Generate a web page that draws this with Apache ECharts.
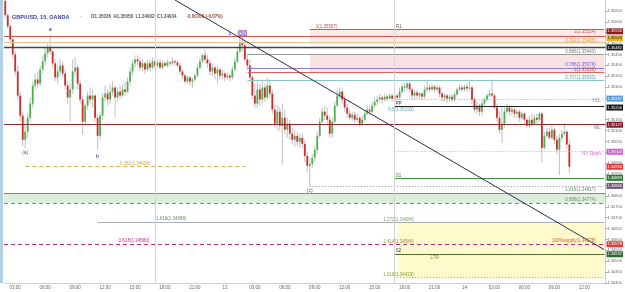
<!DOCTYPE html>
<html>
<head>
<meta charset="utf-8">
<script src="https://cdn.jsdelivr.net/npm/echarts@6/dist/echarts.min.js"></script>
<style>
  html, body { margin: 0; padding: 0; background: #fff; }
  #chart { width: 625px; height: 292px; }
</style>
</head>
<body>
<div id="chart"></div>
<script>
// GBP/USD 15m, OANDA -- candles
const firstOpen = 1.35695

const closes = [
  1.35630, 1.35579, 1.35519, 1.35450, 1.35372, 1.35261, 1.35169, 1.35058, 1.35095, 1.35159,
  1.35224, 1.35307, 1.35335, 1.35316, 1.35381, 1.35418, 1.35455, 1.35482, 1.35464, 1.35409,
  1.35344, 1.35372, 1.35399, 1.35362, 1.35307, 1.35252, 1.35289, 1.35372, 1.35390, 1.35316,
  1.35243, 1.35141, 1.35215, 1.35261, 1.35243, 1.35261, 1.35159, 1.35076, 1.35169, 1.35252,
  1.35270, 1.35243, 1.35279, 1.35298, 1.35252, 1.35279, 1.35261, 1.35289, 1.35279, 1.35326,
  1.35372, 1.35409, 1.35427, 1.35418, 1.35390, 1.35409, 1.35381, 1.35409, 1.35390, 1.35418,
  1.35399, 1.35413, 1.35390, 1.35409, 1.35399, 1.35413, 1.35409, 1.35418, 1.35413, 1.35399,
  1.35372, 1.35353, 1.35326, 1.35344, 1.35326, 1.35335, 1.35353, 1.35390, 1.35418, 1.35446,
  1.35427, 1.35409, 1.35372, 1.35390, 1.35362, 1.35381, 1.35353, 1.35362, 1.35344, 1.35353,
  1.35344, 1.35381, 1.35418, 1.35464, 1.35501, 1.35492, 1.35427, 1.35399, 1.35344, 1.35261,
  1.35224, 1.35289, 1.35243, 1.35298, 1.35252, 1.35307, 1.35270, 1.35196, 1.35132, 1.35187,
  1.35122, 1.35159, 1.35104, 1.35132, 1.35086, 1.35058, 1.35076, 1.35049, 1.35067, 1.35039,
  1.34984, 1.34938, 1.34947, 1.34975, 1.35012, 1.35076, 1.35141, 1.35187, 1.35169, 1.35150,
  1.35086, 1.35141, 1.35215, 1.35261, 1.35279, 1.35243, 1.35206, 1.35178, 1.35159, 1.35173,
  1.35150, 1.35159, 1.35132, 1.35150, 1.35178, 1.35196, 1.35187, 1.35215, 1.35233, 1.35243,
  1.35252, 1.35243, 1.35256, 1.35247, 1.35261, 1.35247, 1.35261, 1.35252, 1.35279, 1.35302,
  1.35298, 1.35316, 1.35289, 1.35261, 1.35275, 1.35261, 1.35270, 1.35256, 1.35289, 1.35298,
  1.35289, 1.35302, 1.35289, 1.35298, 1.35270, 1.35252, 1.35261, 1.35247, 1.35256, 1.35243,
  1.35266, 1.35289, 1.35298, 1.35289, 1.35302, 1.35293, 1.35298, 1.35243, 1.35196, 1.35215,
  1.35187, 1.35224, 1.35243, 1.35261, 1.35270, 1.35261, 1.35206, 1.35159, 1.35104, 1.35132,
  1.35187, 1.35206, 1.35187, 1.35196, 1.35178, 1.35187, 1.35159, 1.35178, 1.35150, 1.35122,
  1.35150, 1.35132, 1.35159, 1.35150, 1.35178, 1.35021, 1.35076, 1.35095, 1.35067, 1.35104,
  1.35058, 1.35012, 1.35067, 1.35086, 1.35095, 1.35036, 1.34934
]

const highs = [
  1.35704, 1.35639, 1.35589, 1.35538, 1.35464, 1.35399, 1.35279, 1.35187, 1.35122, 1.35178,
  1.35252, 1.35326, 1.35362, 1.35372, 1.35399, 1.35446, 1.35482, 1.35501, 1.35542, 1.35473,
  1.35427, 1.35399, 1.35427, 1.35418, 1.35381, 1.35326, 1.35316, 1.35427, 1.35436, 1.35399,
  1.35335, 1.35261, 1.35224, 1.35279, 1.35298, 1.35289, 1.35270, 1.35178, 1.35187, 1.35270,
  1.35307, 1.35289, 1.35316, 1.35326, 1.35307, 1.35298, 1.35307, 1.35316, 1.35326, 1.35344,
  1.35390, 1.35427, 1.35446, 1.35446, 1.35436, 1.35427, 1.35418, 1.35427, 1.35427, 1.35436,
  1.35427, 1.35427, 1.35427, 1.35422, 1.35418, 1.35427, 1.35422, 1.35436, 1.35427, 1.35422,
  1.35409, 1.35381, 1.35362, 1.35353, 1.35353, 1.35344, 1.35362, 1.35409, 1.35436, 1.35455,
  1.35473, 1.35446, 1.35427, 1.35409, 1.35399, 1.35399, 1.35390, 1.35381, 1.35372, 1.35367,
  1.35362, 1.35399, 1.35436, 1.35482, 1.35538, 1.35538, 1.35510, 1.35446, 1.35427, 1.35353,
  1.35316, 1.35326, 1.35316, 1.35335, 1.35316, 1.35344, 1.35335, 1.35289, 1.35219, 1.35219,
  1.35206, 1.35224, 1.35196, 1.35159, 1.35150, 1.35113, 1.35104, 1.35095, 1.35086, 1.35086,
  1.35058, 1.35003, 1.34975, 1.34993, 1.35030, 1.35095, 1.35159, 1.35206, 1.35215, 1.35206,
  1.35169, 1.35159, 1.35233, 1.35289, 1.35298, 1.35298, 1.35261, 1.35224, 1.35196, 1.35187,
  1.35187, 1.35178, 1.35169, 1.35169, 1.35196, 1.35215, 1.35215, 1.35233, 1.35252, 1.35261,
  1.35270, 1.35261, 1.35270, 1.35266, 1.35270, 1.35270, 1.35275, 1.35270, 1.35298, 1.35316,
  1.35321, 1.35326, 1.35326, 1.35298, 1.35289, 1.35289, 1.35279, 1.35279, 1.35307, 1.35335,
  1.35312, 1.35316, 1.35312, 1.35312, 1.35307, 1.35279, 1.35270, 1.35270, 1.35266, 1.35266,
  1.35279, 1.35298, 1.35312, 1.35307, 1.35312, 1.35316, 1.35335, 1.35307, 1.35252, 1.35233,
  1.35224, 1.35243, 1.35252, 1.35270, 1.35289, 1.35335, 1.35270, 1.35224, 1.35187, 1.35206,
  1.35206, 1.35224, 1.35215, 1.35215, 1.35206, 1.35196, 1.35196, 1.35187, 1.35187, 1.35159,
  1.35169, 1.35178, 1.35173, 1.35178, 1.35187, 1.35187, 1.35095, 1.35113, 1.35113, 1.35122,
  1.35113, 1.35076, 1.35086, 1.35104, 1.35136, 1.35104, 1.35058
]

const lows = [
  1.35621, 1.35566, 1.35501, 1.35436, 1.35353, 1.35243, 1.35141, 1.35030, 1.35021, 1.35067,
  1.35141, 1.35206, 1.35289, 1.35298, 1.35307, 1.35362, 1.35399, 1.35436, 1.35450, 1.35390,
  1.35326, 1.35316, 1.35353, 1.35344, 1.35289, 1.35224, 1.35141, 1.35270, 1.35353, 1.35289,
  1.35224, 1.35081, 1.35122, 1.35196, 1.35224, 1.35206, 1.35141, 1.35012, 1.35058, 1.35150,
  1.35233, 1.35215, 1.35224, 1.35261, 1.35159, 1.35233, 1.35243, 1.35252, 1.35261, 1.35270,
  1.35307, 1.35353, 1.35390, 1.35399, 1.35372, 1.35372, 1.35362, 1.35372, 1.35372, 1.35381,
  1.35381, 1.35390, 1.35381, 1.35381, 1.35390, 1.35390, 1.35395, 1.35399, 1.35399, 1.35390,
  1.35358, 1.35335, 1.35316, 1.35316, 1.35307, 1.35298, 1.35326, 1.35344, 1.35381, 1.35409,
  1.35409, 1.35390, 1.35353, 1.35353, 1.35335, 1.35316, 1.35335, 1.35335, 1.35326, 1.35335,
  1.35326, 1.35335, 1.35372, 1.35409, 1.35455, 1.35464, 1.35418, 1.35381, 1.35326, 1.35243,
  1.35206, 1.35206, 1.35215, 1.35224, 1.35233, 1.35243, 1.35252, 1.35178, 1.35113, 1.35104,
  1.35095, 1.34943, 1.35086, 1.35067, 1.35058, 1.35039, 1.35030, 1.35030, 1.35021, 1.35021,
  1.34956, 1.34910, 1.34846, 1.34929, 1.34956, 1.34993, 1.35067, 1.35132, 1.35150, 1.35132,
  1.35067, 1.35067, 1.35132, 1.35206, 1.35243, 1.35224, 1.35187, 1.35159, 1.35150, 1.35141,
  1.35132, 1.35141, 1.35118, 1.35122, 1.35141, 1.35169, 1.35169, 1.35178, 1.35206, 1.35215,
  1.35233, 1.35224, 1.35233, 1.35233, 1.35243, 1.35233, 1.35238, 1.35238, 1.35243, 1.35270,
  1.35279, 1.35284, 1.35275, 1.35243, 1.35243, 1.35247, 1.35247, 1.35243, 1.35247, 1.35275,
  1.35275, 1.35279, 1.35275, 1.35279, 1.35252, 1.35233, 1.35233, 1.35229, 1.35233, 1.35229,
  1.35233, 1.35256, 1.35279, 1.35275, 1.35279, 1.35279, 1.35284, 1.35224, 1.35182, 1.35178,
  1.35169, 1.35169, 1.35215, 1.35233, 1.35252, 1.35252, 1.35196, 1.35141, 1.35086, 1.35044,
  1.35113, 1.35178, 1.35169, 1.35169, 1.35159, 1.35159, 1.35141, 1.35150, 1.35132, 1.35113,
  1.35113, 1.35118, 1.35122, 1.35132, 1.35141, 1.34956, 1.35012, 1.35067, 1.35058, 1.35058,
  1.35039, 1.34993, 1.34896, 1.35049, 1.35076, 1.35021, 1.34902
]

// time slots: 12th 02:00 onwards, 15 min each, incl. empty space on the right
const startDay = 12
const startMinute = 2 * 60
const slotCount = 241

// price scale
const yMin = 1.344
const yMax = 1.357
const yStep = 0.0005

// price tags on the right scale: price, text, background, text colour
const axisTags = [
  [1.35556, '1.35556', '#8e1b1b', '#fff'],
  [1.35524, '1.35524', '#e6b422', '#222'],
  [1.35482, '1.35482', '#1e1e1e', '#fff'],
  [1.35247, '1.35247', '#5b9bd5', '#fff'],
  [1.35206, '1.35206', '#151515', '#fff'],
  [1.35127, '1.35127', '#8b1c2c', '#fff'],
  [1.35003, '1.35003', '#d35ad3', '#fff'],
  [1.34934, '1.34934', '#e53935', '#fff'],
  [1.34883, '1.34883', '#2e7d32', '#fff'],
  [1.34846, '1.34846', '#6e5a78', '#fff'],
  [1.34578, '1.34578', '#e53935', '#fff'],
  [1.34532, '1.34532', '#2e6b30', '#fff']
]

// build categories
const times = []
for (let k = 0; k < slotCount; k++) {
  const t = startMinute + k * 15
  const day = startDay + Math.floor(t / 1440)
  const m = t % 1440
  const hh = String(Math.floor(m / 60)).padStart(2, '0')
  const mm = String(m % 60).padStart(2, '0')
  times.push(day + ' ' + hh + ':' + mm)
}

const candles = closes.map((c, i) => [i, i === 0 ? firstOpen : closes[i - 1], c, lows[i], highs[i]])

function renderCandle(params, api) {
  const i = api.value(0)
  const o = api.value(1), c = api.value(2)
  const po = api.coord([i, o])
  const pc = api.coord([i, c])
  const pl = api.coord([i, api.value(3)])
  const ph = api.coord([i, api.value(4)])
  const w = api.size([1, 0])[0] * 0.72
  const top = Math.min(po[1], pc[1])
  const h = Math.max(Math.abs(po[1] - pc[1]), 0.9)
  return {
    type: 'group',
    children: [
      { type: 'line', shape: { x1: ph[0], y1: ph[1], x2: pl[0], y2: pl[1] }, style: { stroke: '#a3a3a3', lineWidth: 0.7 } },
      { type: 'rect', shape: { x: po[0] - w / 2, y: top, width: w, height: h }, style: { fill: c >= o ? '#4caf50' : '#cf2b2b' } }
    ]
  }
}

// helpers for drawings
function seg(i0, i1, p, color, type, width) {
  return [{ coord: [i0, p], lineStyle: { color: color, type: type || 'solid', width: width || 1 } }, { coord: [i1, p] }]
}
function full(p, color, type, width) {
  return { yAxis: p, lineStyle: { color: color, type: type || 'solid', width: width || 1 } }
}

const drawLines = [
  full(1.35533, '#d9534f'),
  full(1.35506, '#e8c48a'),
  full(1.35482, '#444', 'solid', 1.4),
  full(1.35127, '#8b2b2b'),
  full(1.34813, '#4caf50'),
  full(1.34767, '#4caf50', [4, 3]),
  full(1.34578, '#c0307a', [4, 3], 1.1),
  seg(122, 240, 1.35566, '#d9534f'),
  seg(97, 240, 1.35450, '#9a9a9a'),
  seg(97, 240, 1.35386, '#8a7fd0'),
  seg(97, 240, 1.35367, '#e06060'),
  seg(97, 240, 1.35330, '#8cc8c8'),
  seg(156, 240, 1.35243, '#9aa4ad', [1, 2]),
  seg(156, 240, 1.35210, '#222'),
  seg(156, 240, 1.35003, '#d0a0d0', [1, 2]),
  seg(8, 96, 1.34938, '#e8b040', [4, 3]),
  seg(156, 240, 1.34883, '#3c9a40'),
  seg(122, 240, 1.34846, '#888', [1, 2]),
  seg(37, 240, 1.34679, '#a9adb5'),
  seg(156, 240, 1.34532, '#556b2f'),
  seg(157, 240, 1.34426, '#9ab060', [1, 2]),
  [{ coord: [68, 1.35700], lineStyle: { color: '#2c2c54', width: 1, type: 'solid' } }, { coord: [240, 1.34553] }],
  { xAxis: 60, lineStyle: { color: '#d4d4d4', width: 1, type: 'solid' } },
  { xAxis: 156, lineStyle: { color: '#d4d4d4', width: 1, type: 'solid' } }
]

const tagLines = axisTags.map(t => ({
  yAxis: t[0],
  lineStyle: { color: 'rgba(0,0,0,0)', width: 0, type: 'solid' },
  label: {
    show: true, position: 'end', distance: 1, formatter: t[1],
    color: t[3], backgroundColor: t[2], padding: [1, 1, 1, 1],
    fontSize: 4, fontFamily: 'Liberation Sans'
  }
}))

// text, index, price, placement, colour, size
const notes = [
  ['a', 18, 1.35566, 'inside', '#2d2d7a', 5.5],
  ['(a)', 8, 1.34998, 'inside', '#8e44ad', 5],
  ['b', 37, 1.34979, 'inside', '#2d2d7a', 5.5],
  ['c', 90, 1.35547, 'inside', '#2d2d7a', 5],
  ['(c)', 122, 1.34823, 'inside', '#8e44ad', 5],
  ['1(1.35557)', 124, 1.35579, 'right', '#c0504d', 4.5],
  ['R1', 156, 1.35575, 'right', '#8b4a4a', 4.5],
  ['1(1.35524)', 237, 1.35552, 'left', '#d9534f', 4.5],
  ['0.382(1.35495)', 237, 1.35515, 'left', '#e0a050', 4.5],
  ['0.886(1.35443)', 237, 1.35464, 'left', '#7a7a8a', 4.5],
  ['0.786(1.35376)', 237, 1.35404, 'left', '#6f5fc0', 4.5],
  ['1(1.35358)', 237, 1.35381, 'left', '#d9534f', 4.5],
  ['0.707(1.35333)', 237, 1.35344, 'left', '#4aa3a3', 4.5],
  ['YCL', 239, 1.35238, 'left', '#6a8cae', 4.5],
  ['PP', 156, 1.35224, 'right', '#333', 4.5],
  ['0.5(1.35193)', 153, 1.35196, 'right', '#46b0b8', 4.5],
  ['WL', 239, 1.35113, 'left', '#777', 4.5],
  ['NY Open', 239, 1.34994, 'left', '#d35ad3', 4.5],
  ['S1', 156, 1.34892, 'right', '#2e7d32', 4.5],
  ['1.618(1.34817)', 237, 1.34827, 'left', '#6b8f6b', 4.5],
  ['0.886(1.34774)', 237, 1.34781, 'left', '#6b8f6b', 4.5],
  ['0.382(1.34938)', 52, 1.34947, 'inside', '#d9a441', 4.5],
  ['1.618(1.34688)', 60, 1.34693, 'right', '#6b8f6b', 4.5],
  ['1.272(1.34684)', 151, 1.34690, 'right', '#8a9a5a', 4.5],
  ['0.618(1.34580)', 45, 1.34592, 'right', '#c2308a', 4.5],
  ['1.414(1.34584)', 151, 1.34588, 'right', '#a08a40', 4.5],
  ['100%supply(1.34578)', 237, 1.34592, 'left', '#c0603a', 4.5],
  ['S2', 156, 1.34546, 'right', '#444', 4.5],
  ['LTR', 170, 1.34518, 'right', '#7a8a3a', 4.5],
  ['1.618(1.34433)', 151, 1.34439, 'right', '#8a9a40', 4.5]
]

const notePoints = notes.map(n => ({
  coord: [n[1], n[2]],
  symbol: 'circle', symbolSize: 0.1,
  itemStyle: { color: 'rgba(0,0,0,0)' },
  label: { show: true, position: n[3], distance: 1, formatter: n[0], color: n[4], fontSize: n[5], fontFamily: 'Liberation Sans' }
}))
notePoints.push({
  coord: [95, 1.35547], symbol: 'circle', symbolSize: 0.1, itemStyle: { color: 'rgba(0,0,0,0)' },
  label: {
    show: true, position: 'inside', formatter: '(b)', color: '#8e44ad', fontSize: 5, fontFamily: 'Liberation Sans',
    backgroundColor: 'rgba(190,165,225,0.45)', borderColor: '#9b59b6', borderWidth: 0.5, padding: [0, 1]
  }
})

const chart = echarts.init(document.getElementById('chart'), null, { renderer: 'canvas' })
chart.setOption({
  animation: false,
  backgroundColor: '#fff',
  title: {
    left: 7, top: 3,
    text: '{s|GBP/USD, 15, OANDA}  {d|·}  {v|O1.35036  H1.35058  L1.34902  C1.34934}  {r|-0.00100 (-0.07%)}',
    textStyle: {
      rich: {
        s: { fontSize: 5.5, color: '#3a3f8f', fontFamily: 'Liberation Sans' },
        d: { fontSize: 5, color: '#999' },
        v: { fontSize: 4.5, color: '#555', fontFamily: 'Liberation Sans' },
        r: { fontSize: 4.5, color: '#8a4a3a', fontFamily: 'Liberation Sans' }
      }
    }
  },
  graphic: [
    { type: 'rect', shape: { x: 0, y: 0, width: 3, height: 283 }, style: { fill: '#b3d1e6' }, silent: true }
  ],
  grid: { left: 4, right: 15, top: 0, bottom: 9 },
  xAxis: {
    type: 'category',
    data: times,
    boundaryGap: true,
    axisLine: { lineStyle: { color: '#cfcfcf' } },
    axisTick: { show: false },
    splitLine: { show: false },
    axisLabel: {
      fontSize: 4.5, color: '#666', margin: 2, fontFamily: 'Liberation Sans',
      interval: (idx, val) => {
        const hm = val.split(' ')[1]
        return hm.endsWith(':00') && parseInt(hm, 10) % 3 === 0
      },
      formatter: val => {
        const parts = val.split(' ')
        return parts[1] === '00:00' ? parts[0] : parts[1]
      }
    }
  },
  yAxis: {
    type: 'value',
    position: 'right',
    min: yMin,
    max: yMax,
    interval: yStep,
    splitLine: { show: false },
    axisLine: { show: true, lineStyle: { color: '#cfcfcf' } },
    axisTick: { show: true, length: 2, lineStyle: { color: '#999' } },
    axisLabel: {
      fontSize: 4, color: '#666', margin: 2, showMaxLabel: false, fontFamily: 'Liberation Sans',
      formatter: v => v.toFixed(5)
    }
  },
  series: [
    {
      name: 'zones',
      type: 'line',
      data: [],
      z: 1,
      silent: true,
      markArea: {
        silent: true,
        data: [
          [{ yAxis: 1.34813, itemStyle: { color: 'rgba(129,199,132,0.28)' } }, { yAxis: 1.34767 }],
          [{ coord: [122, 1.35566], itemStyle: { color: 'rgba(244,190,180,0.32)' } }, { coord: [240, 1.35496] }],
          [{ coord: [122, 1.35450], itemStyle: { color: 'rgba(240,165,170,0.32)' } }, { coord: [240, 1.35367] }],
          [{ coord: [157, 1.34675], itemStyle: { color: 'rgba(255,245,140,0.45)' } }, { coord: [240, 1.34421] }]
        ]
      }
    },
    {
      name: 'GBP/USD',
      type: 'custom',
      renderItem: renderCandle,
      data: candles,
      encode: { x: 0, y: [1, 2, 3, 4] },
      clip: true,
      z: 2
    },
    {
      name: 'drawings',
      type: 'line',
      data: [],
      z: 3,
      silent: true,
      markLine: {
        silent: true,
        symbol: ['none', 'none'],
        precision: 6,
        lineStyle: { type: 'solid' },
        label: { show: false },
        data: drawLines.concat(tagLines)
      },
      markPoint: {
        silent: true,
        data: notePoints
      }
    }
  ]
})
</script>
</body>
</html>
